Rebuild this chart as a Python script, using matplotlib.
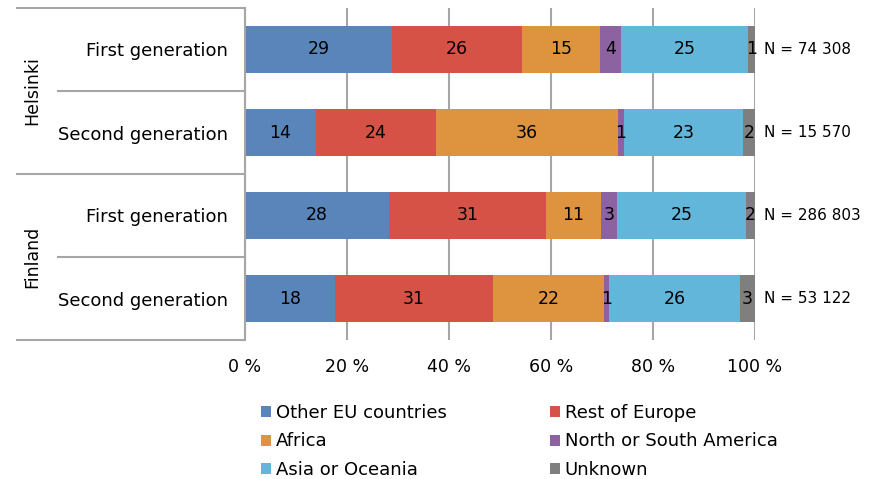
import matplotlib.pyplot as plt
import numpy as np
from matplotlib.patches import Patch

# data (percent shares)
groups = ["Helsinki", "Finland"]
rows = ["First generation", "Second generation", "First generation", "Second generation"]
regions = ["Other EU countries", "Rest of Europe", "Africa",
           "North or South America", "Asia or Oceania", "Unknown"]
other_eu = [28.8, 13.9, 28.2, 17.6]
rest_europe = [25.6, 23.6, 30.8, 31.0]
africa = [15.3, 35.6, 10.8, 21.8]
americas = [4.1, 1.2, 3.1, 1.0]
asia_oceania = [24.9, 23.3, 25.3, 25.7]
unknown = [1.3, 2.4, 1.8, 2.9]
n_labels = ["N = 74 308", "N = 15 570", "N = 286 803", "N = 53 122"]
xticks = [0, 20, 40, 60, 80, 100]

colors = ["#5985BA", "#D75246", "#DE943F", "#8C62A0", "#62B6DA", "#7F7F7F"]
series = [other_eu, rest_europe, africa, americas, asia_oceania, unknown]

plt.rcParams["font.family"] = "DejaVu Sans"
fig = plt.figure(figsize=(8.74, 4.79), dpi=100)
ax = fig.add_axes([245 / 874, 139 / 479, 510 / 874, 332 / 479])

ypos = np.arange(len(rows))[::-1]
left = np.zeros(len(rows))
for vals, col in zip(series, colors):
    vals = np.array(vals)
    bars = ax.barh(ypos, vals, left=left, height=0.555, color=col, zorder=2)
    ax.bar_label(bars, labels=["%.0f" % v for v in vals], label_type="center",
                 fontsize=12.5, color="black")
    left += vals

for y, txt in zip(ypos, n_labels):
    ax.text(101.8, y, txt, va="center", ha="left", fontsize=11)

ax.set_xlim(0, 100)
ax.set_ylim(-0.5, 3.5)
ax.set_xticks(xticks)
ax.set_xticklabels(["%d %%" % t for t in xticks], fontsize=12.5)
ax.set_yticks(ypos)
ax.set_yticklabels(rows, fontsize=13)
ax.tick_params(axis="y", length=0, pad=12)
ax.tick_params(axis="x", length=0, pad=13)
ax.grid(axis="x", color="#A6A6A6", linewidth=1.5, zorder=0)
for s in ["top", "right", "bottom"]:
    ax.spines[s].set_visible(False)
ax.spines["left"].set_color("#A6A6A6")
ax.spines["left"].set_linewidth(1.5)

# group brackets on the left
tr = ax.get_yaxis_transform()
for y in [3.5, 1.5, -0.5]:
    ax.plot([-0.447, 0], [y, y], transform=tr, color="#A6A6A6", lw=1.5, clip_on=False)
for y in [2.5, 0.5]:
    ax.plot([-0.367, 0], [y, y], transform=tr, color="#A6A6A6", lw=1.5, clip_on=False)
for y, g in zip([2.5, 0.5], groups):
    ax.text(-0.418, y, g, transform=tr, rotation=90, va="center", ha="center", fontsize=12.5)

order = [0, 2, 4, 1, 3, 5]
handles = [Patch(facecolor=colors[i], label=regions[i]) for i in order]
fig.legend(handles=handles, loc="upper left", bbox_to_anchor=(261 / 874, 1 - 404 / 479),
           ncol=2, frameon=False, fontsize=13, handlelength=0.55, handleheight=0.55,
           handletextpad=0.28, labelspacing=0.58, columnspacing=5.7, borderpad=0,
           borderaxespad=0)

fig.savefig("out.png", dpi=100)
